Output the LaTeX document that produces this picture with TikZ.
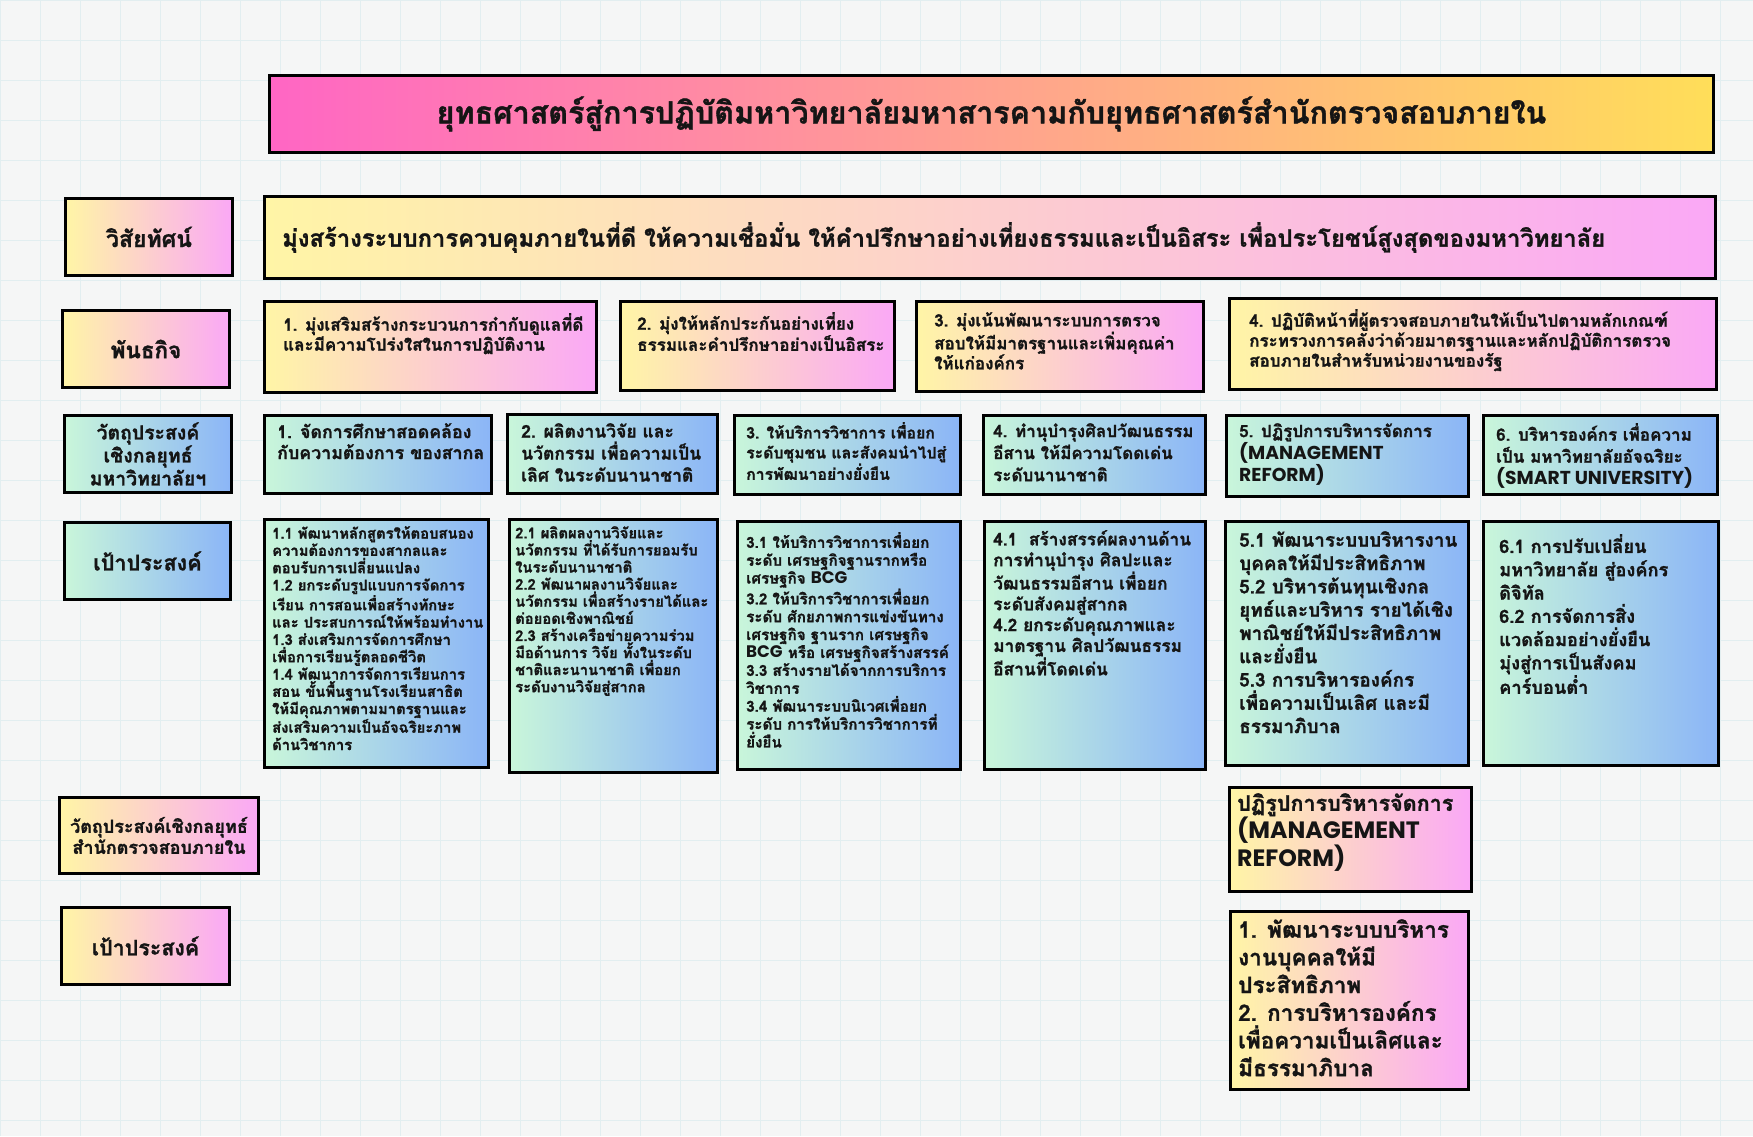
\documentclass[tikz,border=0pt]{standalone}
\usepackage{fontspec}
\newfontfamily\thai[Script=Thai, BoldFeatures={FakeBold=1.2}]{Loma}
\newfontfamily\latin[Scale=1.1]{Poppins}
\newcommand{\lat}[1]{{\latin\bfseries #1}}
\usetikzlibrary{positioning}

\definecolor{ttlL}{HTML}{FF66C4}
\definecolor{ttlR}{HTML}{FFDE59}
\definecolor{ypL}{HTML}{FFF5A6}
\definecolor{ypR}{HTML}{FAA8F6}
\definecolor{gbL}{HTML}{C9F6DA}
\definecolor{gbR}{HTML}{8BB5F7}
\definecolor{paper}{HTML}{F5F6F6}
\definecolor{gridc}{HTML}{E2EEF0}
\definecolor{ink}{HTML}{151515}

\begin{document}
\begin{tikzpicture}[
    x=1pt, y=-1pt,
    box/.style={draw=black, line width=3pt, inner sep=0pt, anchor=north west},
    yp/.style={box, left color=ypL, right color=ypR},
    gb/.style={box, left color=gbL, right color=gbR},
    head/.style={yp, align=center, text=ink, font=\thai\bfseries\fontsize{#1}{1.25\dimexpr#1pt}\selectfont},
    txt/.style n args={2}{anchor=north west, inner sep=0pt, align=left, text=ink, font=\thai\bfseries\fontsize{#1}{#2}\selectfont}
]
% paper
\useasboundingbox (0,0) rectangle (1753,1136);
\fill[paper] (0,0) rectangle (1753,1136);
\draw[gridc, line width=1pt, step=40pt] (0,0) grid (1753,1136);

% title
\node[box, left color=ttlL, right color=ttlR, minimum width=1444pt, minimum height=77pt] (title) at (268,74) {};
\node[txt={30.5}{36}] (titlet) at (title.center) [anchor=center] {ยุทธศาสตร์สู่การปฏิบัติมหาวิทยาลัยมหาสารคามกับยุทธศาสตร์สำนักตรวจสอบภายใน};

% vision
\node[head=23, minimum width=167pt, minimum height=77pt] (vlab) at (64,197) {วิสัยทัศน์};
\node[yp, minimum width=1451pt, minimum height=82pt] (vis) at (263,195) {};
\node[txt={23.8}{29}, anchor=west] (vist) at ([xshift=19pt]vis.west) {มุ่งสร้างระบบการควบคุมภายในที่ดี ให้ความเชื่อมั่น ให้คำปรึกษาอย่างเที่ยงธรรมและเป็นอิสระ เพื่อประโยชน์สูงสุดของมหาวิทยาลัย};

% missions
\node[head=22.5, minimum width=167pt, minimum height=77pt] (mlab) at (61,309) {พันธกิจ};
\node[yp, minimum width=332pt, minimum height=91pt] (m1) at (263,300) {};
\node[yp, minimum width=274pt, minimum height=89pt] (m2) at (619,300) {};
\node[yp, minimum width=287pt, minimum height=90pt] (m3) at (915,300) {};
\node[yp, minimum width=487pt, minimum height=91pt] (m4) at (1228,297) {};
\node[txt={17}{20}] (m1t) at (283,313) {1. มุ่งเสริมสร้างกระบวนการกำกับดูแลที่ดี\\และมีความโปร่งใสในการปฏิบัติงาน};
\node[txt={17}{20}] (m2t) at (637,312) {2. มุ่งให้หลักประกันอย่างเที่ยง\\ธรรมและคำปรึกษาอย่างเป็นอิสระ};
\node[txt={17}{20}] (m3t) at (934,312) {3. มุ่งเน้นพัฒนาระบบการตรวจ\\สอบให้มีมาตรฐานและเพิ่มคุณค่า\\ให้แก่องค์กร};
\node[txt={17}{20}] (m4t) at (1249,309) {4. ปฏิบัติหน้าที่ผู้ตรวจสอบภายในให้เป็นไปตามหลักเกณฑ์\\กระทรวงการคลังว่าด้วยมาตรฐานและหลักปฏิบัติการตรวจ\\สอบภายในสำหรับหน่วยงานของรัฐ};

% strategic objectives (university)
\node[gb, align=center, text=ink, font=\thai\bfseries\fontsize{19.4}{23}\selectfont, minimum width=167pt, minimum height=77pt] (olab) at (63,414) {วัตถุประสงค์\\เชิงกลยุทธ์\\มหาวิทยาลัยฯ};
\node[gb, minimum width=227pt, minimum height=78pt] (o1) at (263,414) {};
\node[gb, minimum width=210pt, minimum height=79pt] (o2) at (506,413) {};
\node[gb, minimum width=226pt, minimum height=79pt] (o3) at (733,414) {};
\node[gb, minimum width=222pt, minimum height=79pt] (o4) at (982,414) {};
\node[gb, minimum width=242pt, minimum height=81pt] (o5) at (1225,414) {};
\node[gb, minimum width=234pt, minimum height=79pt] (o6) at (1482,414) {};
\node[txt={17.8}{21}] (o1t) at (277,423) {1. จัดการศึกษาสอดคล้อง\\กับความต้องการ ของสากล};
\node[txt={17.5}{22}] (o2t) at (521,423) {2. ผลิตงานวิจัย และ\\นวัตกรรม เพื่อความเป็น\\เลิศ ในระดับนานาชาติ};
\node[txt={15.8}{20}] (o3t) at (746,422) {3. ให้บริการวิชาการ เพื่อยก\\ระดับชุมชน และสังคมนำไปสู่\\การพัฒนาอย่างยั่งยืน};
\node[txt={17}{22}] (o4t) at (993,423) {4. ทำนุบำรุงศิลปวัฒนธรรม\\อีสาน ให้มีความโดดเด่น\\ระดับนานาชาติ};
\node[txt={17}{22}] (o5t) at (1239,423) {5. ปฏิรูปการบริหารจัดการ\\\lat{(MANAGEMENT}\\\lat{REFORM)}};
\node[txt={17}{22}] (o6t) at (1496,423) {6. บริหารองค์กร เพื่อความ\\เป็น มหาวิทยาลัยอัจฉริยะ\\\lat{(SMART UNIVERSITY)}};

% goals (university)
\node[gb, align=center, text=ink, font=\thai\bfseries\fontsize{21.6}{25}\selectfont, minimum width=166pt, minimum height=77pt] (glab) at (63,521) {เป้าประสงค์};
\node[gb, minimum width=224pt, minimum height=248pt] (g1) at (263,518) {};
\node[gb, minimum width=208pt, minimum height=253pt] (g2) at (508,518) {};
\node[gb, minimum width=223pt, minimum height=248pt] (g3) at (736,520) {};
\node[gb, minimum width=221pt, minimum height=248pt] (g4) at (983,520) {};
\node[gb, minimum width=243pt, minimum height=244pt] (g5) at (1224,520) {};
\node[gb, minimum width=235pt, minimum height=244pt] (g6) at (1482,520) {};
\node[txt={14.8}{17.3}] (g1t) at (272,526) {1.1 พัฒนาหลักสูตรให้ตอบสนอง\\ความต้องการของสากลและ\\ตอบรับการเปลี่ยนแปลง\\1.2 ยกระดับรูปแบบการจัดการ\\เรียน การสอนเพื่อสร้างทักษะ\\และ ประสบการณ์ให้พร้อมทำงาน\\1.3 ส่งเสริมการจัดการศึกษา\\เพื่อการเรียนรู้ตลอดชีวิต\\1.4 พัฒนาการจัดการเรียนการ\\สอน ขั้นพื้นฐานโรงเรียนสาธิต\\ให้มีคุณภาพตามมาตรฐานและ\\ส่งเสริมความเป็นอัจฉริยะภาพ\\ด้านวิชาการ};
\node[txt={14.8}{17.1}] (g2t) at (515,526) {2.1 ผลิตผลงานวิจัยและ\\นวัตกรรม ที่ได้รับการยอมรับ\\ในระดับนานาชาติ\\2.2 พัฒนาผลงานวิจัยและ\\นวัตกรรม เพื่อสร้างรายได้และ\\ต่อยอดเชิงพาณิชย์\\2.3 สร้างเครือข่ายความร่วม\\มือด้านการ วิจัย ทั้งในระดับ\\ชาติและนานาชาติ เพื่อยก\\ระดับงานวิจัยสู่สากล};
\node[txt={15.2}{17.9}] (g3t) at (746,532) {3.1 ให้บริการวิชาการเพื่อยก\\ระดับ เศรษฐกิจฐานรากหรือ\\เศรษฐกิจ \lat{BCG}\\3.2 ให้บริการวิชาการเพื่อยก\\ระดับ ศักยภาพการแข่งขันทาง\\เศรษฐกิจ ฐานราก เศรษฐกิจ\\\lat{BCG} หรือ เศรษฐกิจสร้างสรรค์\\3.3 สร้างรายได้จากการบริการ\\วิชาการ\\3.4 พัฒนาระบบนิเวศเพื่อยก\\ระดับ การให้บริการวิชาการที่\\ยั่งยืน};
\node[txt={17.3}{20.8}] (g4t) at (993,530) {4.1\ \ สร้างสรรค์ผลงานด้าน\\การทำนุบำรุง ศิลปะและ\\วัฒนธรรมอีสาน เพื่อยก\\ระดับสังคมสู่สากล\\4.2 ยกระดับคุณภาพและ\\มาตรฐาน ศิลปวัฒนธรรม\\อีสานที่โดดเด่น};
\node[txt={18.9}{23.3}] (g5t) at (1239,531) {5.1 พัฒนาระบบบริหารงาน\\บุคคลให้มีประสิทธิภาพ\\5.2 บริหารต้นทุนเชิงกล\\ยุทธ์และบริหาร รายได้เชิง\\พาณิชย์ให้มีประสิทธิภาพ\\และยั่งยืน\\5.3 การบริหารองค์กร\\เพื่อความเป็นเลิศ และมี\\ธรรมาภิบาล};
\node[txt={18.2}{23.3}] (g6t) at (1499,534) {6.1 การปรับเปลี่ยน\\มหาวิทยาลัย สู่องค์กร\\ดิจิทัล\\6.2 การจัดการสิ่ง\\แวดล้อมอย่างยั่งยืน\\มุ่งสู่การเป็นสังคม\\คาร์บอนต่ำ};

% internal audit office
\node[yp, align=center, text=ink, font=\thai\bfseries\fontsize{18}{21}\selectfont, minimum width=199pt, minimum height=76pt] (alab) at (58,796) {วัตถุประสงค์เชิงกลยุทธ์\\สำนักตรวจสอบภายใน};
\node[head=21.4, minimum width=168pt, minimum height=77pt] (aglab) at (60,906) {เป้าประสงค์};
\node[yp, minimum width=242pt, minimum height=104pt] (r1) at (1228,786) {};
\node[yp, minimum width=238pt, minimum height=178pt] (r2) at (1229,910) {};
\node[txt={21.5}{25.8}] (r1t) at (1237,793) {ปฏิรูปการบริหารจัดการ\\\lat{(MANAGEMENT}\\\lat{REFORM)}};
\node[txt={22.5}{27.7}] (r2t) at (1238,919) {1. พัฒนาระบบบริหาร\\งานบุคคลให้มี\\ประสิทธิภาพ\\2. การบริหารองค์กร\\เพื่อความเป็นเลิศและ\\มีธรรมาภิบาล};
\end{tikzpicture}
\end{document}
